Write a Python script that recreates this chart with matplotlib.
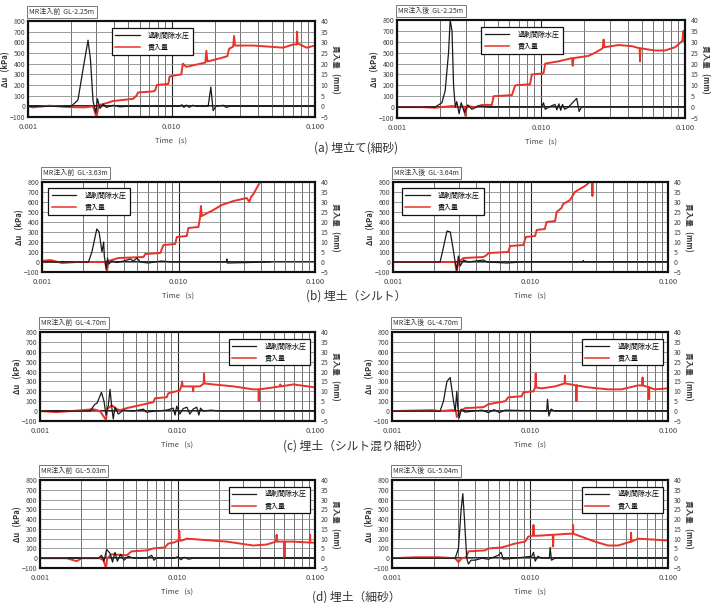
import matplotlib
matplotlib.use('Agg')
import matplotlib.pyplot as plt
from matplotlib.lines import Line2D
from matplotlib.ticker import FixedLocator, FixedFormatter, LogLocator, NullFormatter

plt.rcParams['font.family'] = ['Noto Sans CJK JP', 'DejaVu Sans']

# ---------------- data (time in s, Δu in kPa, 貫入量 in mm) ----------------
x_ticks = [0.001, 0.01, 0.1]
x_tick_labels = ['0.001', '0.010', '0.100']
u_ticks = [-100, 0, 100, 200, 300, 400, 500, 600, 700, 800]
p_ticks = [-5, 0, 5, 10, 15, 20, 25, 30, 35, 40]
legend_labels = ['過剰間隙水圧', '貫入量']
captions = ['(a) 埋立て(細砂)', '(b) 埋土（シルト）', '(c) 埋土（シルト混り細砂）', '(d) 埋土（細砂）']
titles = ['MR注入前  GL-2.25m', 'MR注入後  GL-2.25m',
          'MR注入前  GL-3.63m', 'MR注入後  GL-3.64m',
          'MR注入前  GL-4.70m', 'MR注入後  GL-4.70m',
          'MR注入前  GL-5.03m', 'MR注入後  GL-5.04m']

# (a) before
a_pre_ut = [0.001, 0.0020, 0.00223, 0.00242, 0.00262, 0.00272, 0.00284, 0.00297, 0.00305, 0.00317,
            0.00334, 0.00352, 0.00392, 0.00437, 0.00486, 0.0114, 0.0118, 0.0122, 0.0127, 0.0133,
            0.0140, 0.0150, 0.0180, 0.0188, 0.0195, 0.0204, 0.0230, 0.0240, 0.0255, 0.1]
a_pre_u = [0, 0, 60, 350, 620, 450, 50, -60, 70, -20,
           20, -10, 10, -5, 0, 0, 15, -10, 12, -10,
           10, 0, 0, 180, -40, 0, 10, -10, 0, 0]
a_pre_pt = [0.001, 0.00108, 0.00141, 0.00185, 0.00248, 0.00284, 0.0030, 0.00311, 0.00352, 0.00392,
            0.0054, 0.0057, 0.00585, 0.00745, 0.0077, 0.0079, 0.0095, 0.0097, 0.0117, 0.0120,
            0.0127, 0.0172, 0.0175, 0.0178, 0.0217, 0.0245, 0.0252, 0.0269, 0.0273, 0.0277,
            0.0372, 0.060, 0.0706, 0.0745, 0.075, 0.0755, 0.0875, 0.1]
a_pre_p = [0, -0.5, 0.3, -0.3, -0.5, 0, -5, 0.5, 1.5, 2.5,
           3.5, 5, 6.5, 7, 7.5, 10, 10.5, 14, 15, 20,
           18.5, 20.5, 26, 21, 22.5, 23.5, 27, 28, 33, 28.5,
           28.5, 27.5, 29, 29, 35, 29.5, 27.5, 28.5]

# (a) after
a_post_ut = [0.001, 0.00184, 0.00205, 0.00216, 0.00228, 0.00234, 0.00241, 0.00247, 0.00254, 0.0026,
             0.0027, 0.00279, 0.00294, 0.0031, 0.00331, 0.00368, 0.00432, 0.0101, 0.0104, 0.0107,
             0.0113, 0.0125, 0.0129, 0.0133, 0.0137, 0.0141, 0.0146, 0.0155, 0.0177, 0.0184,
             0.0191, 0.0294, 0.1]
a_post_u = [0, 0, 40, 150, 500, 800, 700, 200, 0, 50,
            -60, 40, -50, 20, -20, 10, 0, 0, 40, -20,
            0, 25, -25, 30, -30, 25, -20, 0, 80, -40,
            0, 0, 0]
a_post_pt = [0.001, 0.00149, 0.00184, 0.00241, 0.00268, 0.00292, 0.00298, 0.00306, 0.00349, 0.00389,
             0.00456, 0.00468, 0.00628, 0.00662, 0.0084, 0.00863, 0.0104, 0.0107, 0.0132, 0.0164,
             0.0166, 0.0168, 0.0213, 0.0238, 0.0268, 0.0272, 0.0276, 0.0345, 0.0427, 0.0484,
             0.0487, 0.049, 0.062, 0.0726, 0.0853, 0.0960, 0.0973, 0.0985, 0.1]
a_post_p = [0, 0, -0.3, 0.5, 0, 0.3, -4, 0.5, 0, 1,
            1, 5, 5.5, 10, 10.5, 15, 15.5, 20, 21, 22.5,
            19, 22.5, 23.5, 25, 27, 31, 27.5, 28.5, 28, 27,
            21, 27, 26, 26, 27.5, 30.5, 35, 30.5, 30]

# (b) before
b_pre_ut = [0.001, 0.00219, 0.00232, 0.00252, 0.00262, 0.00275, 0.00283, 0.00286, 0.00296, 0.00302,
            0.00309, 0.00325, 0.00354, 0.00396, 0.00443, 0.00469, 0.00496, 0.00525, 0.0060, 0.0075,
            0.0090, 0.0224, 0.0226, 0.0228, 0.0469]
b_pre_u = [0, 0, 100, 330, 300, 100, 200, 60, -70, 40,
           -20, 10, -5, 10, 30, 10, 40, 0, -10, 10,
           0, 0, 30, -10, 0]
b_pre_pt = [0.001, 0.00115, 0.0014, 0.00181, 0.0029, 0.00299, 0.00307, 0.00364, 0.00555, 0.0057,
            0.00735, 0.00776, 0.00946, 0.00972, 0.0115, 0.0118, 0.0140, 0.0144, 0.0146, 0.0148,
            0.018, 0.0207, 0.0253, 0.0316, 0.0330, 0.0340, 0.0354, 0.0396]
b_pre_p = [0.5, 1, -0.5, 0, 0, -5, 0.5, 2, 2.5, 4,
           4.5, 8.5, 9, 12.5, 13, 17, 17.5, 22.5, 28, 23,
           26, 28.5, 30.5, 32, 30, 32.5, 34, 40]

# (b) after
b_post_ut = [0.001, 0.0022, 0.00233, 0.00247, 0.00261, 0.00276, 0.00283, 0.00291, 0.00299, 0.00308,
             0.00326, 0.00354, 0.00455, 0.00481, 0.00672, 0.00863, 0.0240, 0.0242, 0.0245, 0.1]
b_post_u = [0, 0, 150, 310, 300, 100, 0, -80, 60, -40,
            20, 0, 20, 0, -10, 0, 0, 15, 0, 0]
b_post_pt = [0.001, 0.00197, 0.00283, 0.0029, 0.003, 0.00326, 0.00455, 0.0048, 0.00495, 0.00691,
             0.0071, 0.00888, 0.00923, 0.0108, 0.0111, 0.0127, 0.0131, 0.0151, 0.0155, 0.0168,
             0.0173, 0.0194, 0.021, 0.0249, 0.027, 0.0280, 0.0282, 0.0284]
b_post_p = [0, 0, 0, -5, 0, 2, 2.5, 3.5, 4.5, 5,
            8, 8.5, 12.5, 13, 16, 16.5, 20, 20.5, 25, 27,
            29, 31, 35, 38, 40, 40, 33, 40]

# (c) before
c_pre_ut = [0.001, 0.00231, 0.00251, 0.0026, 0.0028, 0.00292, 0.00302, 0.00314, 0.00323, 0.00332,
            0.00341, 0.00351, 0.00371, 0.00404, 0.00477, 0.00565, 0.00592, 0.00834, 0.0093, 0.0096,
            0.00986, 0.0104, 0.0110, 0.0117, 0.0123, 0.0130, 0.0138, 0.0143, 0.0147, 0.0154,
            0.0175, 0.0204, 0.1]
c_pre_u = [0, 0, 70, 80, 190, 100, -40, 60, 220, 50,
           -80, 40, -30, 10, 0, 20, -10, 10, 30, -40,
           50, -30, 25, 40, -30, 20, 40, -40, 30, 0,
           10, 0, 0]
c_pre_pt = [0.001, 0.00132, 0.00207, 0.00244, 0.00273, 0.00302, 0.00308, 0.00332, 0.00361, 0.00382,
            0.00427, 0.00534, 0.00667, 0.00686, 0.00834, 0.00857, 0.0104, 0.0107, 0.0108, 0.0109,
            0.0123, 0.0129, 0.0130, 0.0131, 0.0146, 0.0155, 0.0156, 0.0157, 0.0182, 0.0255,
            0.0356, 0.0388, 0.0390, 0.0392, 0.0445, 0.0555, 0.0560, 0.0565, 0.0695, 0.1]
c_pre_p = [0, -0.5, 0.5, 1, 0, -4.5, 1, 3, 1, 0.5,
           1.5, 3, 4.5, 6.5, 7, 9, 10.5, 13, 15, 12.5,
           12.5, 12.5, 10, 12.5, 12.5, 14, 19, 14, 13.5, 12.5,
           11, 11, 5, 11, 11.5, 12.5, 13.5, 12.5, 13.5, 12]

# (c) after
c_post_ut = [0.001, 0.00223, 0.00236, 0.0025, 0.00264, 0.00279, 0.00287, 0.00295, 0.00299, 0.00307,
             0.00317, 0.00339, 0.00448, 0.0050, 0.0055, 0.0060, 0.0066, 0.0132, 0.0134, 0.0137,
             0.0142, 0.0151, 0.0211, 0.1]
c_post_u = [0, 0, 100, 300, 340, 100, 0, 200, 60, -70,
            20, -10, 10, -15, 15, -15, 10, 0, 120, -50,
            20, 0, 0, 0]
c_post_pt = [0.001, 0.00195, 0.00223, 0.00272, 0.00290, 0.00295, 0.00312, 0.00339, 0.0046, 0.005,
             0.0066, 0.00697, 0.00871, 0.00895, 0.0106, 0.0109, 0.0110, 0.0111, 0.0121, 0.0152,
             0.0178, 0.0179, 0.0180, 0.0216, 0.0217, 0.0218, 0.0264, 0.0368, 0.046, 0.0607,
             0.0652, 0.0654, 0.0656, 0.0728, 0.073, 0.0732, 0.0802, 0.1]
c_post_p = [0, 0.5, 0, 0.5, 0.5, -3, 0, 1.5, 2, 3.5,
            5, 7, 7.5, 9.5, 10, 12, 19, 12, 11.5, 12.5,
            14, 18, 14, 13, 5, 13, 12, 11, 11, 13,
            13, 17, 13, 12, 6, 12, 11, 11.5]

# (d) before
d_pre_ut = [0.001, 0.00266, 0.0028, 0.00292, 0.00305, 0.00323, 0.00337, 0.00351, 0.00365, 0.00386,
            0.00408, 0.00439, 0.00477, 0.00597, 0.00649, 0.00674, 0.007, 0.0095, 0.0100, 0.0106,
            0.0112, 0.0120, 0.0130, 0.0182, 0.1]
d_pre_u = [0, 0, 30, -30, 90, 50, -40, 60, -30, 40,
           -20, 20, 0, 0, 30, -20, 0, 0, 15, -15,
           10, -10, 0, 0, 0]
d_pre_pt = [0.001, 0.00156, 0.00185, 0.00201, 0.00273, 0.00289, 0.00302, 0.00308, 0.00332, 0.00427,
            0.00464, 0.00597, 0.00667, 0.00811, 0.00857, 0.00933, 0.0102, 0.0103, 0.0104, 0.0107,
            0.0117, 0.0146, 0.0182, 0.0228, 0.0285, 0.0356, 0.0445, 0.0520, 0.0526, 0.0532,
            0.0598, 0.060, 0.0602, 0.0695, 0.0915, 0.092, 0.0925, 0.1]
d_pre_p = [0, 0, -1.5, 0, 0, -1, -5, 0, 2, 1.5,
           3.5, 4, 5, 5.5, 7.5, 8, 9, 14, 9, 9,
           10, 9.5, 9, 8.5, 7.5, 6.5, 7, 8.5, 12, 8.5,
           8.5, 0, 8.5, 8.5, 8, 12, 8, 8]

# (d) after
d_post_ut = [0.001, 0.00287, 0.00303, 0.00317, 0.00326, 0.00335, 0.00348, 0.00358, 0.00374, 0.004,
             0.00448, 0.005, 0.0059, 0.00617, 0.0064, 0.0078, 0.0103, 0.0106, 0.0109, 0.0114,
             0.0121, 0.0138, 0.0140, 0.0143, 0.0152, 0.02, 0.1]
d_post_u = [0, 0, 100, 500, 660, 400, 0, -60, -20, -20,
            0, -10, 30, 60, -10, 0, 20, 60, -30, 20,
            0, 0, 110, -20, 0, 0, 0]
d_post_pt = [0.001, 0.00147, 0.00217, 0.00287, 0.00303, 0.00321, 0.00345, 0.00358, 0.00473, 0.005,
             0.00624, 0.0078, 0.0092, 0.0097, 0.0105, 0.0106, 0.0107, 0.0115, 0.0146, 0.0147,
             0.0148, 0.0189, 0.0204, 0.0205, 0.0206, 0.0236, 0.0295, 0.0368, 0.0435, 0.0538,
             0.054, 0.0542, 0.0607, 0.0802, 0.1]
d_post_p = [0, 0.5, 0.5, 0, -2, 0, 0.5, 3.5, 4, 5,
            5.5, 7.5, 8.5, 11, 11.5, 17, 11.5, 11.5, 12, 6,
            12, 12.5, 12.5, 17, 12.5, 11, 8.5, 6.5, 6.5, 8.5,
            13, 8.5, 10, 9.5, 9]

series = [
    (a_pre_ut, a_pre_u, a_pre_pt, a_pre_p), (a_post_ut, a_post_u, a_post_pt, a_post_p),
    (b_pre_ut, b_pre_u, b_pre_pt, b_pre_p), (b_post_ut, b_post_u, b_post_pt, b_post_p),
    (c_pre_ut, c_pre_u, c_pre_pt, c_pre_p), (c_post_ut, c_post_u, c_post_pt, c_post_p),
    (d_pre_ut, d_pre_u, d_pre_pt, d_pre_p), (d_post_ut, d_post_u, d_post_pt, d_post_p),
]

# ---------------- layout (pixel boxes) ----------------
W, H = 712, 603
boxes = [(28, 21, 315, 117), (397, 20, 685, 118),
         (42, 182, 315, 272), (393, 182, 668, 272),
         (40, 332, 315, 421), (392, 332, 668, 421),
         (40, 480, 315, 568), (392, 480, 668, 568)]
legend_pos = [('upper left', (0.28, 0.96)), ('upper left', (0.28, 0.96)),
              ('upper left', (0.01, 0.97)), ('upper left', (0.02, 0.97)),
              ('upper right', (0.995, 0.96)), ('upper right', (0.995, 0.96)),
              ('upper right', (0.995, 0.96)), ('upper right', (0.995, 0.96))]
caption_y = [148, 296, 446, 597]

BLACK = '#1a1a1a'
RED = '#e8322a'

fig = plt.figure(figsize=(W / 100, H / 100), dpi=100)

for i, (box, (ut, u, pt, p)) in enumerate(zip(boxes, series)):
    x0, y0, x1, y1 = box
    ax = fig.add_axes([x0 / W, 1 - y1 / H, (x1 - x0) / W, (y1 - y0) / H])
    ax.set_xscale('log')
    ax2 = ax.twinx()

    ax2.plot(pt, p, color=RED, lw=1.4, zorder=2)
    ax2.plot(ut, u, color=BLACK, lw=0.9, zorder=3, transform=ax.transData)

    ax.set_xlim(0.001, 0.1)
    ax.set_ylim(-100, 800)
    ax2.set_ylim(-5, 40)
    ax.xaxis.set_major_locator(FixedLocator(x_ticks))
    ax.xaxis.set_major_formatter(FixedFormatter(x_tick_labels))
    ax.xaxis.set_minor_locator(LogLocator(base=10, subs=range(2, 10), numticks=20))
    ax.xaxis.set_minor_formatter(NullFormatter())
    ax.yaxis.set_major_locator(FixedLocator(u_ticks))
    ax2.yaxis.set_major_locator(FixedLocator(p_ticks))

    ax.grid(True, which='minor', axis='x', color='#5a5a5a', lw=0.6)
    ax.grid(True, which='major', axis='x', color='#222222', lw=0.8)
    ax.grid(True, which='major', axis='y', color='#8a8a8a', lw=0.6)
    ax.axhline(0, color='#111111', lw=1.3, zorder=1.5)
    ax.tick_params(which='both', length=0, labelsize=5, colors='#444444', pad=2)
    ax.tick_params(axis='x', labelsize=5.5, pad=4)
    ax2.tick_params(which='both', length=0, labelsize=5, colors='#444444', pad=4)
    for a in (ax, ax2):
        for s in a.spines.values():
            s.set_linewidth(1.5)
            s.set_color('#111111')
    ax.set_xlabel('Time   (s)', fontsize=5.5, color='#444444', labelpad=4)

    # y-axis labels
    yc = 1 - (y0 + y1) / 2 / H
    fig.text((x0 - 22) / W, yc, 'Δu   (kPa)', rotation=90, ha='center', va='center',
             fontsize=5.5, fontweight='bold', color='#333333')
    fig.text((x1 + 20) / W, yc, '貫入量   (mm)', rotation=270, ha='center', va='center',
             fontsize=5.5, fontweight='bold', color='#333333')

    # title box
    fig.text((x0 + 1) / W, 1 - (y0 - 9) / H, titles[i], ha='left', va='center',
             fontsize=5, color='#333333',
             bbox=dict(boxstyle='square,pad=0.35', fc='white', ec='#777777', lw=0.7))

    handles = [Line2D([], [], color=BLACK, lw=0.9), Line2D([], [], color=RED, lw=1.1)]
    loc, anchor = legend_pos[i]
    leg = ax2.legend(handles, legend_labels, loc=loc, bbox_to_anchor=anchor, fontsize=5,
                     frameon=True, fancybox=False, edgecolor='#111111', framealpha=1,
                     handlelength=3.5, borderpad=0.5, labelspacing=0.5, handletextpad=1.2)
    leg.get_frame().set_linewidth(0.9)

for k, cap in enumerate(captions):
    fig.text(356 / W, 1 - caption_y[k] / H, cap, ha='center', va='center',
             fontsize=8.5, color='#333333')

fig.savefig('out.png', dpi=100)
